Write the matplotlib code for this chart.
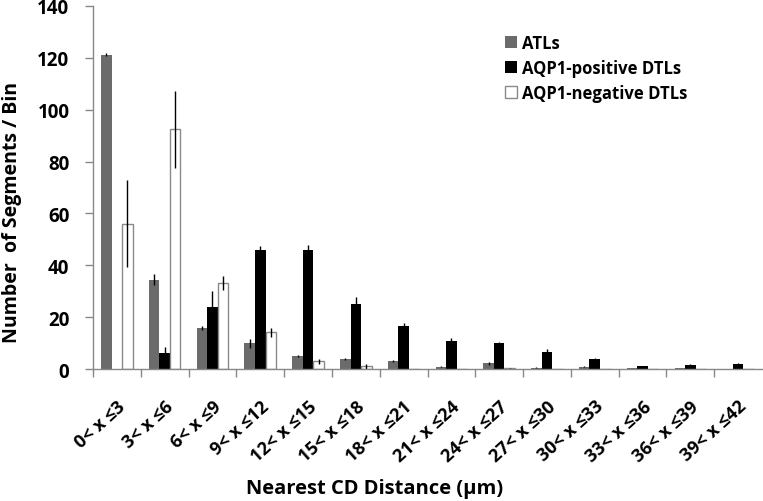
import numpy as np
import matplotlib
matplotlib.use("Agg")
import matplotlib.pyplot as plt

# bins and values
labels = ["0< x ≤3", "3< x ≤6", "6< x ≤9", "9< x ≤12", "12< x ≤15", "15< x ≤18",
          "18< x ≤21", "21< x ≤24", "24< x ≤27", "27< x ≤30", "30< x ≤33",
          "33< x ≤36", "36< x ≤39", "39< x ≤42"]
atl = [121.2, 34.5, 15.9, 9.9, 5.1, 3.9, 3.0, 0.9, 2.2, 0.4, 0.9, 0.3, 0.3, 0]
atl_err = [0.5, 2.2, 0.8, 1.7, 0.3, 0.4, 0.3, 0.3, 0.5, 0.2, 0.3, 0.1, 0.1, 0]
pos = [0, 6.2, 23.9, 45.9, 45.9, 24.9, 16.7, 10.7, 9.9, 6.7, 4.0, 1.0, 1.5, 1.9]
pos_err = [0, 2.2, 6.3, 1.5, 2.1, 3.0, 0.9, 1.2, 0.5, 1.2, 0.3, 0.3, 0.4, 0.3]
neg = [56, 92.4, 33.2, 14.1, 3.0, 1.0, 0, 0, 0.3, 0, 0, 0, 0, 0]
neg_err = [16.7, 14.8, 2.6, 1.7, 1.0, 1.0, 0, 0, 0.2, 0, 0, 0, 0, 0]

plt.rcParams['font.family'] = ['Open Sans', 'DejaVu Sans']
plt.rcParams['font.weight'] = 'bold'

fig = plt.figure(figsize=(7.63, 5.02), dpi=100)
ax = fig.add_axes([93 / 763, 132 / 502, 669 / 763, 363 / 502])

x = np.arange(len(labels))
w = 0.22
err_kw = dict(ecolor='black', elinewidth=1, capsize=0)
ax.bar(x - w, atl, w, color='#6b6b6b', yerr=atl_err, error_kw=err_kw, label='ATLs')
ax.bar(x, pos, w, color='black', yerr=pos_err, error_kw=err_kw, label='AQP1-positive DTLs')
ax.bar(x + w, neg, w, color='white', edgecolor='#8a8a8a', linewidth=1,
       yerr=neg_err, error_kw=err_kw, label='AQP1-negative DTLs')

ax.set_xlim(-0.5, len(labels) - 0.5)
ax.set_ylim(0, 140)
ax.set_yticks(range(0, 141, 20))
ax.set_xticks(x)
ax.set_xticklabels(labels, rotation=42, ha='right', rotation_mode='anchor',
                   fontsize=13, fontweight='bold')
ax.set_xticks(np.arange(-0.5, len(labels) - 0.5, 1), minor=True)
ax.tick_params(axis='x', which='major', length=0, pad=20)
ax.tick_params(axis='x', which='minor', length=6, color='#888888', width=1)
ax.tick_params(axis='y', length=6, color='#888888', width=1, labelsize=13.5, pad=11)
for t in ax.get_yticklabels():
    t.set_fontweight('bold')

for s in ['top', 'right']:
    ax.spines[s].set_visible(False)
for s in ['left', 'bottom']:
    ax.spines[s].set_color('#888888')
    ax.spines[s].set_linewidth(1)

ax.set_xlabel("Nearest CD Distance (µm)", fontsize=14.5, fontweight='bold', va='center')
ax.xaxis.set_label_coords(0.4215, -0.328)
ax.set_ylabel("Number  of Segments / Bin", fontsize=14, fontweight='bold', va='center')
ax.yaxis.set_label_coords(-0.121, 0.435)

leg = ax.legend(loc='upper left', bbox_to_anchor=(505 / 763, 1 - 35 / 502),
                bbox_transform=fig.transFigure, frameon=False, borderpad=0,
                borderaxespad=0, fontsize=12, handlelength=0.72, handleheight=0.72,
                handletextpad=0.3, labelspacing=0.42)
for t in leg.get_texts():
    t.set_fontweight('bold')

fig.savefig("out.png", dpi=100)
